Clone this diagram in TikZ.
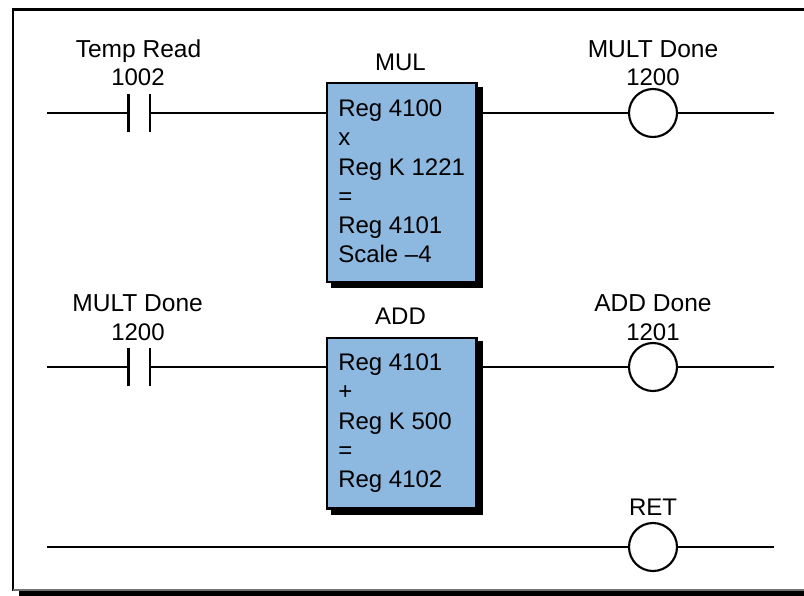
\documentclass[tikz,border=0pt]{standalone}
\usepackage{fontspec}
\setmainfont{Liberation Sans}
\definecolor{blockblue}{HTML}{8DB8E0}
\tikzset{
  x=0.75pt,y=-0.75pt,
  wire/.style={line width=1.6pt,black},
  blockbox/.style={draw=black,line width=1.8pt,fill=blockblue,inner sep=0pt,anchor=north west},
  coil/.style={draw=black,line width=1.6pt,fill=white,circle,minimum size=36pt,inner sep=0pt},
  btext/.style={inner sep=0pt,anchor=base west,font=\fontsize{18}{21.6}\selectfont},
  lbl/.style={inner sep=0pt,anchor=base,font=\fontsize{18}{21.6}\selectfont},
  lblwide/.style={inner sep=0pt,anchor=base,font=\fontsize{18.4}{22}\selectfont}
}
\begin{document}
\begin{tikzpicture}
\useasboundingbox (0,0) rectangle (804,596);
% frame (runs off the right edge)
\fill[black] (18.5,16) rectangle (804,596);
\fill[white] (13,10) rectangle (804,590);
\draw[black,line width=2.2pt] (804,9.5) -- (13,9.5) -- (13,591);
\draw[black!55,line width=0.8pt] (13,590) -- (804,590);
% rung ends
\coordinate (r1a) at (47,113);
\coordinate (r1b) at (774,113);
\coordinate (r2a) at (47,367);
\coordinate (r2b) at (774,367);
\coordinate (r3a) at (47,547);
\coordinate (r3b) at (774,547);
% contact plates
\coordinate (c1l) at (128.5,113);
\coordinate (c1r) at (150,113);
\coordinate (c2l) at (128.5,367);
\coordinate (c2r) at (150,367);
% blocks
\fill[black] (331,87) rectangle (482.5,288);
\node[blockbox,minimum width=112pt,minimum height=149pt] (mul) at (326,82) {};
\fill[black] (331,341) rectangle (482.5,514.5);
\node[blockbox,minimum width=112pt,minimum height=128pt] (add) at (326,336.5) {};
% coils
\node[coil] (o1) at (653,113) {};
\node[coil] (o2) at (653,367) {};
\node[coil] (o3) at (653,547) {};
% wires
\draw[wire] (r1a) -- (c1l);
\draw[wire] (c1r) -- (mul.west |- c1r);
\draw[wire] (mul.east |- r1b) -- (o1);
\draw[wire] (o1) -- (r1b);
\draw[wire] (r2a) -- (c2l);
\draw[wire] (c2r) -- (add.west |- c2r);
\draw[wire] (add.east |- r2b) -- (o2);
\draw[wire] (o2) -- (r2b);
\draw[wire] (r3a) -- (o3);
\draw[wire] (o3) -- (r3b);
% contact plates
\draw[wire] ([yshift=-14.5pt]c1l) -- ([yshift=14.5pt]c1l);
\draw[wire] ([yshift=-14.5pt]c1r) -- ([yshift=14.5pt]c1r);
\draw[wire] ([yshift=-14.5pt]c2l) -- ([yshift=14.5pt]c2l);
\draw[wire] ([yshift=-14.5pt]c2r) -- ([yshift=14.5pt]c2r);
% labels
\node[lblwide] (t1) at (138.5,57) {Temp Read};
\node[lbl] (t2) at (138,85.5) {1002};
\node[lbl] (t3) at (400.5,70.5) {MUL};
\node[lblwide] (t4) at (653,57) {MULT Done};
\node[lbl] (t5) at (653,85.5) {1200};
\node[lblwide] (t6) at (137.7,311.5) {MULT Done};
\node[lbl] (t7) at (138,340) {1200};
\node[lbl] (t8) at (400.5,324.5) {ADD};
\node[lblwide] (t9) at (653,311.5) {ADD Done};
\node[lbl] (t10) at (653,340) {1201};
\node[lbl] (t11) at (653,515) {RET};
% block text
\node[btext] (m1) at (338,116) {Reg 4100};
\node[btext] (m2) at (338,145) {x};
\node[btext] (m3) at (338,175) {Reg K 1221};
\node[btext] (m4) at (338,204) {=};
\node[btext] (m5) at (338,233) {Reg 4101};
\node[btext] (m6) at (338,262.5) {Scale –4};
\node[btext] (a1) at (338,370.5) {Reg 4101};
\node[btext] (a2) at (338,399.5) {+};
\node[btext] (a3) at (338,429) {Reg K 500};
\node[btext] (a4) at (338,458) {=};
\node[btext] (a5) at (338,487.5) {Reg 4102};
\end{tikzpicture}
\end{document}
